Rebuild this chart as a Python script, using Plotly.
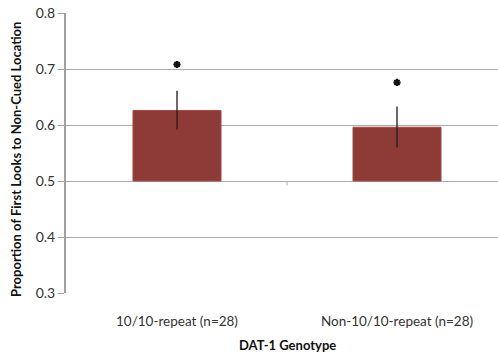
import plotly.graph_objects as go

categories = ["10/10-repeat (n=28)", "Non-10/10-repeat (n=28)"]
means = [0.626, 0.596]
err_plus = [0.035, 0.037]
err_minus = [0.034, 0.036]
star_y = [0.708, 0.676]
baseline = 0.5
y_ticks = [0.3, 0.4, 0.5, 0.6, 0.7, 0.8]

xpos = list(range(len(categories)))
font_fam = "Lato, 'Open Sans', sans-serif"

fig = go.Figure()
fig.add_trace(go.Bar(
    x=xpos,
    y=[m - baseline for m in means],
    base=baseline,
    width=0.4,
    marker=dict(color="#8e3a36", line=dict(color="#a24a45", width=1)),
    error_y=dict(type="data", symmetric=False, array=err_plus, arrayminus=err_minus,
                 color="rgba(40,30,30,0.85)", thickness=1.6, width=0),
    showlegend=False,
))
fig.add_trace(go.Scatter(
    x=xpos, y=star_y, mode="markers",
    marker=dict(symbol="asterisk-open", size=6, color="#111", line=dict(color="#111", width=2)),
    showlegend=False,
))
# small category divider tick on the 0.5 crossing axis
fig.add_shape(type="line", xref="x", yref="y", x0=0.5, x1=0.5, y0=baseline, y1=baseline - 0.008,
              line=dict(color="#b0b0b0", width=1))

fig.update_layout(
    width=498, height=356,
    margin=dict(l=66, r=0, t=12.5, b=62.7),
    plot_bgcolor="white", paper_bgcolor="white",
    font=dict(family=font_fam, size=12, color="#333"),
    bargap=0.6,
)
fig.update_xaxes(
    range=[-0.5045, 1.459],
    tickmode="array", tickvals=xpos, ticktext=categories,
    showgrid=False, zeroline=False, showline=False, ticks="",
    ticklabelstandoff=18, tickfont=dict(size=13.5, color="#333"),
)
fig.update_yaxes(
    range=[0.3, 0.8], tickmode="array", tickvals=y_ticks,
    ticktext=[f"{v:.1f}" for v in y_ticks],
    showgrid=True, gridcolor="#ababab", gridwidth=1.2,
    showline=True, linecolor="#a0a0a0", linewidth=2,
    ticks="outside", ticklen=6, tickcolor="#a0a0a0", tickwidth=1.2,
    zeroline=False, tickfont=dict(size=14, color="#333"),
)
fig.add_annotation(text="<b>Proportion of First Looks to Non-Cued Location</b>",
                   xref="paper", yref="paper", x=-0.1157, y=0.475, textangle=-90,
                   showarrow=False, xanchor="center", yanchor="middle",
                   font=dict(size=13, color="#111", family=font_fam))
fig.add_annotation(text="<b>DAT-1 Genotype</b>",
                   xref="x", yref="paper", x=0.5, y=-0.184,
                   showarrow=False, xanchor="center", yanchor="middle",
                   font=dict(size=13, color="#111", family=font_fam))
fig.write_html("out.html")
